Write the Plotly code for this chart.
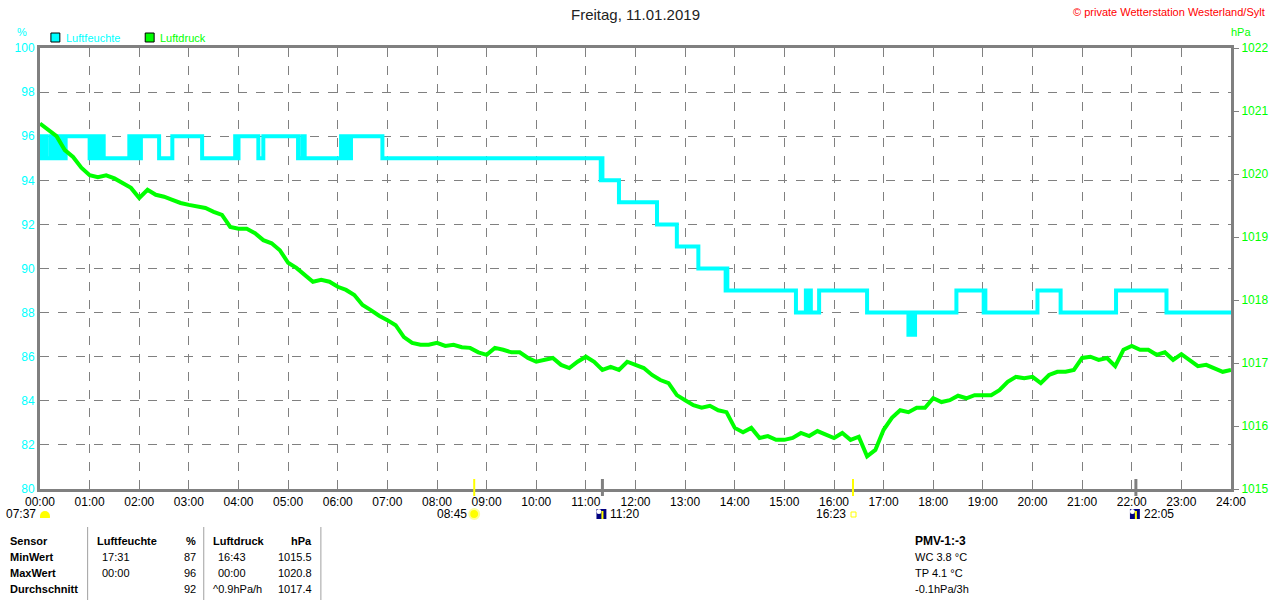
import numpy as np
import plotly.graph_objects as go

# --- Daten ---------------------------------------------------------------
title_text = "Freitag, 11.01.2019"
hour_labels = ["%02d:00" % h for h in range(25)]

# Luftfeuchte (%), Stufenwerte ab Uhrzeit
hum_times = ["00:00", "00:02", "00:03", "00:05", "00:06", "00:08", "00:13", "00:15",
             "00:17", "00:19", "00:21", "00:23", "00:25", "00:27", "00:29", "00:31",
             "01:00", "01:02", "01:04", "01:06", "01:08", "01:10", "01:13", "01:15", "01:17", "01:19",
             "01:48", "01:50", "01:52", "01:55", "01:57", "02:00", "02:02",
             "02:24", "02:40", "03:16", "03:56", "03:58", "04:00", "04:24", "04:30",
             "05:12", "05:17", "05:20",
             "06:04", "06:06", "06:08", "06:10", "06:12", "06:14", "06:16", "06:54",
             "11:18", "11:19", "11:20", "11:40", "12:26", "12:50", "13:16",
             "13:49", "13:50", "13:51",
             "15:14", "15:26", "15:27", "15:28", "15:32", "15:42", "16:40",
             "17:30", "17:32", "17:33", "17:35", "17:36", "17:38",
             "18:28", "19:01", "19:02", "19:03", "20:06", "20:34", "21:41", "22:42", "24:00"]
hum_values = [96, 95, 96, 95, 96, 95, 96, 95,
              96, 95, 96, 95, 96, 95, 95, 96,
              95, 96, 95, 96, 95, 96, 95, 96, 95, 95,
              96, 95, 96, 95, 96, 95, 96,
              95, 96, 95, 96, 95, 96, 95, 96,
              95, 96, 95,
              96, 95, 96, 95, 96, 95, 96, 95,
              94, 95, 94, 93, 92, 91, 90,
              89, 90, 89,
              88, 89, 88, 89, 88, 89, 88,
              87, 88, 87, 88, 87, 88,
              89, 88, 89, 88, 89, 88, 89, 88, 88]

# Luftdruck (hPa), alle 10 Minuten
pres_values = [
    1020.80, 1020.70, 1020.60, 1020.38, 1020.27, 1020.10,
    1019.98, 1019.95, 1019.98, 1019.93, 1019.86, 1019.78,
    1019.62, 1019.75, 1019.67, 1019.64, 1019.59, 1019.54,
    1019.51, 1019.48, 1019.46, 1019.40, 1019.35, 1019.16,
    1019.13, 1019.13, 1019.06, 1018.95, 1018.90, 1018.79,
    1018.59, 1018.51, 1018.40, 1018.29, 1018.32, 1018.29,
    1018.21, 1018.16, 1018.08, 1017.92, 1017.84, 1017.75,
    1017.68, 1017.60, 1017.41, 1017.32, 1017.29, 1017.29,
    1017.32, 1017.27, 1017.29, 1017.25, 1017.24, 1017.17,
    1017.13, 1017.24, 1017.21, 1017.17, 1017.17, 1017.08,
    1017.02, 1017.05, 1017.08, 1016.97, 1016.92, 1017.02,
    1017.10, 1017.02, 1016.89, 1016.94, 1016.89, 1017.02,
    1016.97, 1016.92, 1016.81, 1016.73, 1016.68, 1016.49,
    1016.41, 1016.33, 1016.29, 1016.32, 1016.25, 1016.22,
    1015.97, 1015.90, 1015.97, 1015.81, 1015.84, 1015.78,
    1015.78, 1015.81, 1015.89, 1015.84, 1015.92, 1015.86,
    1015.81, 1015.89, 1015.78, 1015.83, 1015.52, 1015.62,
    1015.94, 1016.13, 1016.25, 1016.22, 1016.29, 1016.29,
    1016.44, 1016.38, 1016.41, 1016.48, 1016.44, 1016.49,
    1016.49, 1016.49, 1016.57, 1016.70, 1016.78, 1016.76,
    1016.78, 1016.68, 1016.81, 1016.86, 1016.86, 1016.89,
    1017.08, 1017.10, 1017.05, 1017.08, 1016.95, 1017.21,
    1017.27, 1017.21, 1017.21, 1017.13, 1017.17, 1017.05,
    1017.14, 1017.05, 1016.95, 1016.97, 1016.92, 1016.86,
    1016.89,
]
pres_times = np.arange(len(pres_values)) * 10 / 60.0

# Sonne / Mond
sun_events = ["07:37", "08:45", "16:23"]
moon_events = ["11:20", "22:05"]

# Tabelle
table_rows = ["Sensor", "MinWert", "MaxWert", "Durchschnitt"]
hum_col_time = ["Luftfeuchte", "17:31", "00:00", ""]
hum_col_val = ["%", "87", "96", "92"]
pres_col_time = ["Luftdruck", "16:43", "00:00", "^0.9hPa/h"]
pres_col_val = ["hPa", "1015.5", "1020.8", "1017.4"]
extra_lines = ["PMV-1:-3", "WC 3.8 °C", "TP 4.1 °C", "-0.1hPa/3h"]


def hm(s):
    h, m = s.split(":")
    return int(h) + int(m) / 60.0


# Pixel -> paper; Plotbereich 40..1240 / 48..489
def PX(px):
    return (px - 40) / 1200.0


def PY(py):
    return (489 - py) / 441.0


CYAN = "#00FFFF"
GREEN = "#00FF00"
GRAY = "#808080"
FONT = "Liberation Sans"

fig = go.Figure()
fig.add_trace(go.Scatter(x=[hm(t) for t in hum_times], y=hum_values, mode="lines",
                         line=dict(color=CYAN, width=4, shape="hv"), name="Luftfeuchte"))
fig.add_trace(go.Scatter(x=pres_times, y=pres_values, mode="lines", yaxis="y2",
                         line=dict(color=GREEN, width=4), name="Luftdruck"))

fig.update_layout(
    width=1280, height=600,
    margin=dict(l=40, r=40, t=48, b=111, pad=0),
    paper_bgcolor="white", plot_bgcolor="white",
    showlegend=False,
    font=dict(family=FONT, size=12, color="black"),
    xaxis=dict(range=[0, 24], tickvals=list(range(25)), ticktext=hour_labels,
               showgrid=True, gridcolor=GRAY, griddash="dash", gridwidth=1,
               showline=True, linecolor=GRAY, linewidth=3, mirror=True,
               zeroline=False, ticks="", tickfont=dict(size=12, color="black")),
    yaxis=dict(range=[80, 100], dtick=2, showgrid=True, gridcolor=GRAY,
               griddash="dash", gridwidth=1, showline=True, linecolor=GRAY,
               linewidth=3, zeroline=False, ticks="",
               tickfont=dict(size=12, color=CYAN)),
    yaxis2=dict(range=[1015, 1022], dtick=1, overlaying="y", side="right",
                showgrid=False, showline=True, linecolor=GRAY, linewidth=3,
                zeroline=False, ticks="outside", ticklen=5, tickcolor=GRAY,
                tickfont=dict(size=12, color=GREEN)),
)

ann = []
shapes = []


def text(px, py, s, anchor="left", color="black", size=11, bold=False):
    ann.append(dict(x=PX(px), y=PY(py), xref="paper", yref="paper",
                    text=("<b>%s</b>" % s) if bold else s,
                    showarrow=False, xanchor=anchor, yanchor="middle",
                    font=dict(family=FONT, size=size, color=color)))


# Kopf
text(640, 15, title_text, anchor="center", size=15, color="#222222")
text(1276, 12, "© private Wetterstation Westerland/Sylt", anchor="right", size=11, color="#FF0000")
text(22, 32, "%", anchor="center", size=11, color=CYAN)
text(1250, 32, "hPa", anchor="center", size=11, color=GREEN)

# Legende
for sx, col, lab in [(51, CYAN, "Luftfeuchte"), (146, GREEN, "Luftdruck")]:
    shapes.append(dict(type="rect", xref="paper", yref="paper", x0=PX(sx), x1=PX(sx + 9),
                       y0=PY(42), y1=PY(33), fillcolor=col, line=dict(color="black", width=1)))
    text(sx + 13, 38, lab, color=col, size=11)

# Sonnen-/Mondmarken an der x-Achse
for t, col in [(sun_events[1], "#FFFF00"), (sun_events[2], "#FFFF00"),
               (moon_events[0], GRAY), (moon_events[1], GRAY)]:
    xp = PX(40 + hm(t) * 50)
    shapes.append(dict(type="line", xref="paper", yref="paper", x0=xp, x1=xp,
                       y0=PY(496), y1=PY(479), line=dict(color=col, width=2 if col != GRAY else 3)))

# 07:37 Sonnenaufgang-Symbol
text(38, 514, sun_events[0], anchor="right", size=12)
shapes.append(dict(type="circle", xref="paper", yref="paper", x0=PX(40), x1=PX(50),
                   y0=PY(521), y1=PY(511), fillcolor="#FFFF00", line=dict(width=0)))
shapes.append(dict(type="rect", xref="paper", yref="paper", x0=PX(39), x1=PX(51),
                   y0=PY(524), y1=PY(517), fillcolor="white", line=dict(width=0)))
shapes.append(dict(type="rect", xref="paper", yref="paper", x0=PX(40), x1=PX(50),
                   y0=PY(518), y1=PY(516), fillcolor="#FFFF00", line=dict(width=0)))

# 08:45 Sonne
x845 = 40 + hm(sun_events[1]) * 50
text(x845 - 5, 514, sun_events[1], anchor="right", size=12)
shapes.append(dict(type="circle", xref="paper", yref="paper", x0=PX(x845 - 5), x1=PX(x845 + 5),
                   y0=PY(519), y1=PY(509), fillcolor="#FFFF00",
                   line=dict(color="#FFFF99", width=2)))

# 16:23 Sonnenuntergang
x1623 = 40 + hm(sun_events[2]) * 50
text(x1623 - 5, 514, sun_events[2], anchor="right", size=12)
shapes.append(dict(type="rect", xref="paper", yref="paper", x0=PX(x1623 - 2), x1=PX(x1623 + 3),
                   y0=PY(517), y1=PY(512), fillcolor="white", line=dict(color="#FFFF00", width=1)))

# Mond-Symbole
for t in moon_events:
    xm = 40 + hm(t) * 50
    shapes.append(dict(type="rect", xref="paper", yref="paper", x0=PX(xm - 6), x1=PX(xm + 4),
                       y0=PY(519), y1=PY(509), fillcolor="#000080", line=dict(width=0)))
    shapes.append(dict(type="circle", xref="paper", yref="paper", x0=PX(xm - 6), x1=PX(xm - 1),
                       y0=PY(514), y1=PY(509), fillcolor="white", line=dict(width=0)))
    shapes.append(dict(type="line", xref="paper", yref="paper", x0=PX(xm), x1=PX(xm),
                       y0=PY(519), y1=PY(511), line=dict(color="#FFFF00", width=2)))
    text(xm + 6, 514, t, anchor="left", size=12)

# Tabelle
row_y = [541, 557, 573, 589]
for i, yy in enumerate(row_y):
    text(8, yy, table_rows[i], bold=True)
    text(95 if i == 0 else 100, yy, hum_col_time[i], bold=(i == 0))
    text(199, yy, hum_col_val[i], anchor="right", bold=(i == 0))
    text(212 if i in (0, 3) else 217, yy, pres_col_time[i], bold=(i == 0))
    text(316, yy, pres_col_val[i], anchor="right", bold=(i == 0))
    text(920, yy, extra_lines[i], bold=(i == 0), size=12 if i == 0 else 11)

for sx in [88, 205, 323]:
    shapes.append(dict(type="line", xref="paper", yref="paper", x0=PX(sx), x1=PX(sx),
                       y0=PY(600), y1=PY(527), line=dict(color="#A0A0A0", width=1)))

fig.update_layout(annotations=ann, shapes=shapes)
# Browser-Standardrand entfernen, damit die Figur genau 1280x600 fuellt
fig.write_html("out.html", config={"displayModeBar": False},
               post_script="document.body.style.margin='0';document.body.style.overflow='hidden';")
